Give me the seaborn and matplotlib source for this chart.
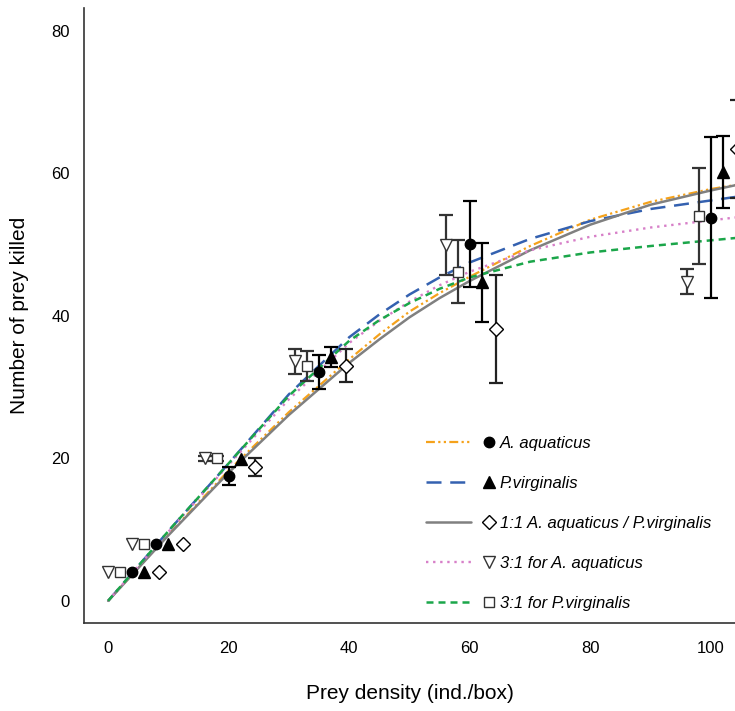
import numpy as np
import pandas as pd
import matplotlib
matplotlib.use("Agg")
import matplotlib.pyplot as plt
import seaborn as sns
from matplotlib.lines import Line2D
from matplotlib.legend_handler import HandlerBase

# ---------------- data ----------------
density = [4, 8, 20, 35, 60, 100]

series = [
    "A. aquaticus",
    "P.virginalis",
    "1:1 A. aquaticus / P.virginalis",
    "3:1 for A. aquaticus",
    "3:1 for P.virginalis",
]

aqua_mean = [4, 8, 17.5, 32.1, 50.1, 53.8]
aqua_err = [0, 0, 1.3, 2.4, 6.0, 11.3]

virg_mean = [4, 8, 19.9, 34.2, 44.7, 60.2]
virg_err = [0, 0, 0, 1.4, 5.5, 5.0]

mix11_mean = [4, 8, 18.8, 33.0, 38.2, 63.4]
mix11_err = [0, 0, 1.3, 2.3, 7.6, 6.9]

mix31a_mean = [4, 8, 20.0, 33.6, 50.0, 44.8]
mix31a_err = [0, 0, 0.3, 1.8, 4.2, 1.8]

mix31p_mean = [4, 8, 20.0, 32.9, 46.2, 54.0]
mix31p_err = [0, 0, 0.3, 2.1, 4.4, 6.7]

# fitted functional response curves
curve_x = [0, 10, 20, 30, 40, 45, 50, 55, 60, 70, 80, 90, 100, 105]
aqua_fit = [0, 9.3, 18.3, 26.5, 33.9, 37.4, 40.6, 43.2, 45.5, 49.8, 53.5, 56.0, 57.8, 58.5]
virg_fit = [0, 9.8, 19.3, 29.0, 37.0, 40.2, 43.0, 45.4, 47.5, 50.8, 53.3, 55.0, 56.2, 56.8]
mix11_fit = [0, 9.2, 18.0, 26.1, 33.4, 36.7, 39.8, 42.5, 44.9, 49.2, 52.8, 55.6, 57.6, 58.5]
mix31a_fit = [0, 9.7, 19.1, 28.3, 36.2, 39.3, 42.0, 44.3, 46.2, 49.2, 51.1, 52.4, 53.4, 53.9]
mix31p_fit = [0, 9.8, 19.3, 28.8, 36.5, 39.4, 41.8, 43.8, 45.4, 47.6, 48.9, 49.8, 50.6, 51.0]

means = [aqua_mean, virg_mean, mix11_mean, mix31a_mean, mix31p_mean]
errs = [aqua_err, virg_err, mix11_err, mix31a_err, mix31p_err]
fits = [aqua_fit, virg_fit, mix11_fit, mix31a_fit, mix31p_fit]

# ---------------- styles ----------------
line_style = {
    "A. aquaticus": dict(color="#F5A21B", linestyle=(0, (4, 1.5, 1, 1.5, 1, 1.5)), linewidth=1.6),
    "P.virginalis": dict(color="#3461B0", linestyle=(0, (6, 3.5)), linewidth=1.8),
    "1:1 A. aquaticus / P.virginalis": dict(color="#808080", linestyle="-", linewidth=1.8),
    "3:1 for A. aquaticus": dict(color="#D77FC8", linestyle=(0, (1, 2)), linewidth=1.7),
    "3:1 for P.virginalis": dict(color="#1BA64A", linestyle=(0, (2.8, 2)), linewidth=1.8),
}
point_style = {
    "A. aquaticus": dict(marker="o", markersize=7.5, markerfacecolor="black", markeredgecolor="black"),
    "P.virginalis": dict(marker="^", markersize=8.5, markerfacecolor="black", markeredgecolor="black"),
    "1:1 A. aquaticus / P.virginalis": dict(marker="D", markersize=7, markerfacecolor="white",
                                            markeredgecolor="black", markeredgewidth=1.0),
    "3:1 for A. aquaticus": dict(marker="v", markersize=9, markerfacecolor="white",
                                 markeredgecolor="#333333", markeredgewidth=1.0),
    "3:1 for P.virginalis": dict(marker="s", markersize=7, markerfacecolor="white",
                                 markeredgecolor="#333333", markeredgewidth=1.0),
}
dodge = {
    "A. aquaticus": 0.0,
    "P.virginalis": 2.0,
    "1:1 A. aquaticus / P.virginalis": 4.4,
    "3:1 for A. aquaticus": -4.0,
    "3:1 for P.virginalis": -2.0,
}
bar_color = {
    "A. aquaticus": "black",
    "P.virginalis": "black",
    "1:1 A. aquaticus / P.virginalis": "#222222",
    "3:1 for A. aquaticus": "#333333",
    "3:1 for P.virginalis": "#333333",
}


class LineThenMarker(HandlerBase):
    """Legend handle: line segment followed by the point marker."""

    def create_artists(self, legend, orig_handle, xdescent, ydescent,
                       width, height, fontsize, trans):
        line_h, mark_h = orig_handle
        y = height / 2 - ydescent
        x0 = -xdescent
        seg = Line2D([x0, x0 + 0.64 * width], [y, y])
        seg.update_from(line_h)
        seg.set_marker("")
        seg.set_transform(trans)
        dot = Line2D([x0 + 0.9 * width], [y])
        dot.update_from(mark_h)
        dot.set_linestyle("")
        dot.set_transform(trans)
        return [seg, dot]


# ---------------- plot ----------------
sns.set_style("white")
plt.rcParams["font.family"] = ["Liberation Sans", "DejaVu Sans"]

fig = plt.figure(figsize=(7.35, 7.11), dpi=100)
ax = fig.add_axes([0.1143, 0.1238, 0.8857, 0.8649])

for name, fit in zip(series, fits):
    sns.lineplot(x=curve_x, y=fit, ax=ax, zorder=2, **line_style[name])

for name, m, e in zip(series, means, errs):
    df = pd.DataFrame({"x": np.array(density) + dodge[name], "y": m, "e": e})
    eb = df[df["e"] > 0]
    ax.errorbar(eb["x"], eb["y"], yerr=eb["e"], fmt="none", ecolor=bar_color[name],
                elinewidth=1.6, capsize=5, capthick=1.6, zorder=3)
    ax.plot(df["x"], df["y"], linestyle="", zorder=4, **point_style[name])

ax.set_xlim(-4, 104)
ax.set_ylim(-3.1, 83.2)
ax.set_xticks([0, 20, 40, 60, 80, 100])
ax.set_yticks([0, 20, 40, 60, 80])
sns.despine(ax=ax)
for sp in ("left", "bottom"):
    ax.spines[sp].set_color("#333333")
    ax.spines[sp].set_linewidth(1.2)
ax.tick_params(direction="out", length=5, width=1.1, color="#555555",
               labelsize=12, labelcolor="black")
ax.tick_params(axis="x", pad=8)
ax.tick_params(axis="y", pad=5)
ax.set_xlabel("Prey density (ind./box)", fontsize=15, labelpad=20, color="black")
ax.set_ylabel("Number of prey killed", fontsize=15, labelpad=16, color="black")

handles = []
for name in series:
    lh = Line2D([], [], **line_style[name])
    mh = Line2D([], [], linestyle="", **point_style[name])
    handles.append((lh, mh))

leg = ax.legend(handles, series, handler_map={tuple: LineThenMarker()},
                loc="lower left", bbox_to_anchor=(0.525, 0.02), frameon=False,
                borderpad=0, borderaxespad=0, handlelength=4.2, handletextpad=0.25,
                labelspacing=1.5, prop={"size": 12, "style": "italic"})
for t in leg.get_texts():
    t.set_color("black")

fig.savefig("out.png", dpi=100)
